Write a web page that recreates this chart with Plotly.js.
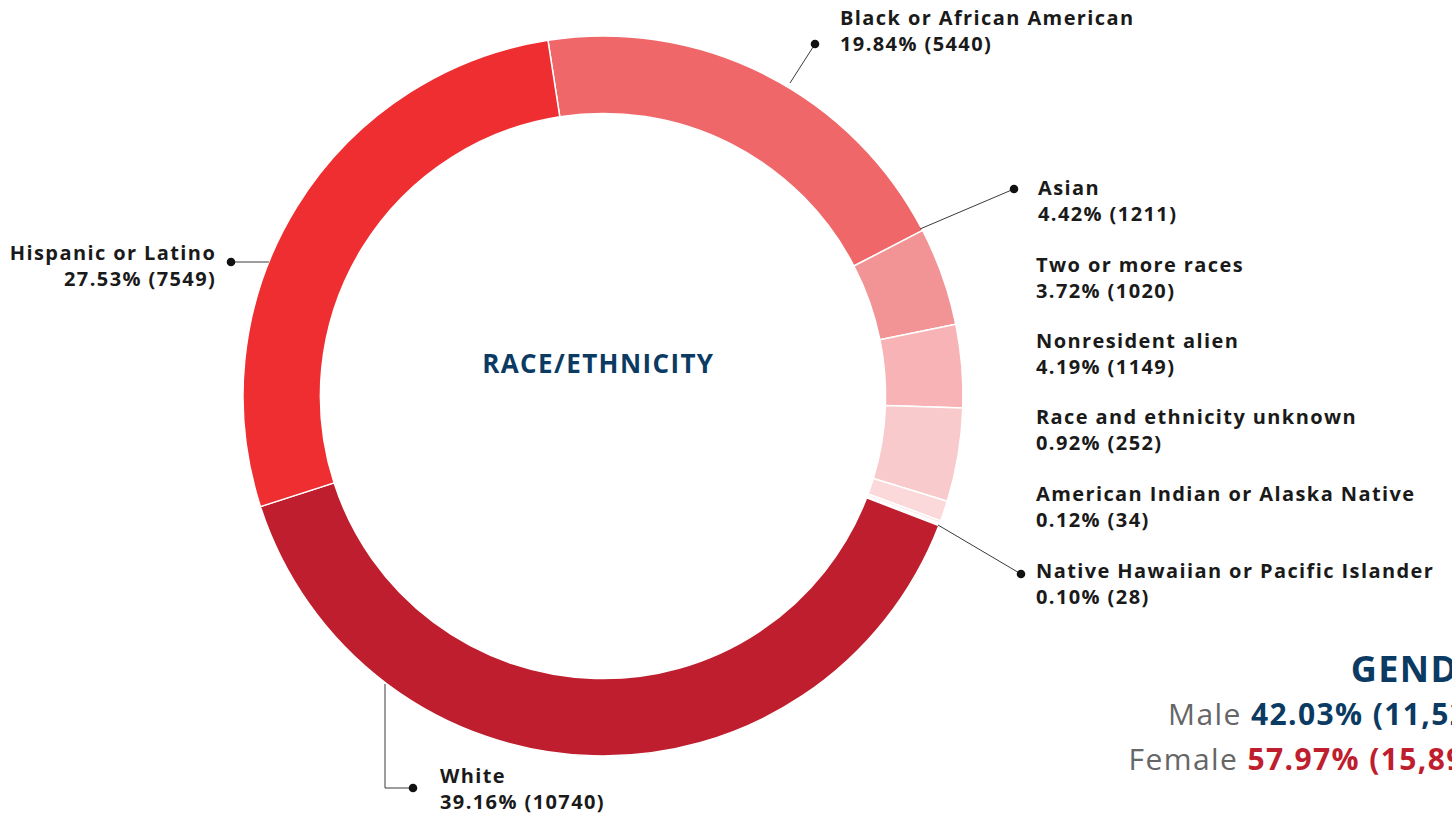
<!DOCTYPE html>
<html>
<head>
<meta charset="utf-8">
<script src="https://cdn.plot.ly/plotly-3.0.1.min.js"></script>
<style>
  html, body { margin: 0; padding: 0; background: #ffffff; }
  #chart { width: 1452px; height: 817px; }
  #chart .annotation-text { letter-spacing: 1.4px; }
</style>
</head>
<body>
<div id="chart"></div>
<script>
// ---- data ----
const categories = [
  "Black or African American",
  "Asian",
  "Two or more races",
  "Nonresident alien",
  "Race and ethnicity unknown",
  "American Indian or Alaska Native",
  "Native Hawaiian or Pacific Islander",
  "White",
  "Hispanic or Latino"
];
const percents = [19.84, 4.42, 3.72, 4.19, 0.92, 0.12, 0.10, 39.16, 27.53];
const counts   = [5440, 1211, 1020, 1149, 252, 34, 28, 10740, 7549];
const sliceColors = ["#EF6769", "#F29496", "#F7B3B5", "#F9CACC", "#FBD9DA", "#FCE7E7", "#FEF3F3", "#BE1E2D", "#EE2E31"];

const genderLabels = ["Male", "Female"];
const genderPercents = [42.03, 57.97];
const genderCounts = ["11,526", "15,897"];
const genderColors = ["#0B3A63", "#BE1E2D"];

// ---- helpers for layout positions (pixels -> paper) ----
const W = 1452, H = 817;
const px = x => x / W;
const py = y => 1 - y / H;

const FONT = "'Open Sans', 'DejaVu Sans', sans-serif";
const labelFont = { family: FONT, size: 20, color: "#1a1a1a" };

function labelText(i) {
  return "<b>" + categories[i] + "</b><br><b>" + percents[i].toFixed(2) + "% (" + counts[i] + ")</b>";
}

// label placement (layout only)
const labelPos = [
  { i: 0, x: 838, y: 31, xa: "left", al: "left" },
  { i: 1, x: 1036, y: 200, xa: "left", al: "left" },
  { i: 2, x: 1034, y: 277, xa: "left", al: "left" },
  { i: 3, x: 1034, y: 353, xa: "left", al: "left" },
  { i: 4, x: 1034, y: 429, xa: "left", al: "left" },
  { i: 5, x: 1034, y: 506, xa: "left", al: "left" },
  { i: 6, x: 1034, y: 583, xa: "left", al: "left" },
  { i: 7, x: 438, y: 788, xa: "left", al: "left" },
  { i: 8, x: 218, y: 265, xa: "right", al: "right" }
];

const annotations = labelPos.map(p => ({
  xref: "paper", yref: "paper",
  x: px(p.x), y: py(p.y),
  xanchor: p.xa, yanchor: "middle", align: p.al,
  showarrow: false,
  text: labelText(p.i),
  font: labelFont
}));

annotations.push({
  xref: "paper", yref: "paper", x: px(598), y: py(363),
  xanchor: "center", yanchor: "middle", showarrow: false,
  text: "<b>RACE/ETHNICITY</b>",
  font: { family: FONT, size: 26, color: "#0B3A63" }
});

annotations.push({
  xref: "paper", yref: "paper", x: px(1353), y: py(668),
  xanchor: "left", yanchor: "middle", showarrow: false,
  text: "<b>GENDER</b>",
  font: { family: FONT, size: 36, color: "#0B3A63" }
});
const genderX = [1180, 1142];
const genderY = [713, 758];
genderLabels.forEach((g, k) => {
  annotations.push({
    xref: "paper", yref: "paper", x: px(genderX[k]), y: py(genderY[k]),
    xanchor: "left", yanchor: "middle", showarrow: false,
    text: g + " <b><span style='color:" + genderColors[k] + "'>" + genderPercents[k].toFixed(2) + "% (" + genderCounts[k] + ")</span></b>",
    font: { family: FONT, size: 30, color: "#666666" }
  });
});

// leader lines + dots (layout decoration)
const leaders = [
  [[790, 83], [815, 44]],
  [[920, 229], [1014, 189]],
  [[938, 525], [1021, 574]],
  [[269, 262], [231, 262]],
  [[385, 684], [385, 788], [413, 788]]
];
const shapes = [];
leaders.forEach(pts => {
  let path = "M " + pts.map(p => px(p[0]) + " " + py(p[1])).join(" L ");
  shapes.push({ type: "path", xref: "paper", yref: "paper", path: path,
    line: { color: "#3a3a3a", width: 1 } });
  const end = pts[pts.length - 1];
  const r = 4.3;
  shapes.push({ type: "circle", xref: "paper", yref: "paper",
    x0: px(end[0] - r), x1: px(end[0] + r), y0: py(end[1] + r), y1: py(end[1] - r),
    fillcolor: "#111111", line: { width: 0 } });
});

const trace = {
  type: "pie",
  labels: categories,
  values: counts,
  sort: false,
  direction: "clockwise",
  rotation: -8.8,
  hole: 0.785,
  textinfo: "none",
  hoverinfo: "label+percent",
  showlegend: false,
  marker: { colors: sliceColors, line: { color: "#ffffff", width: 1.5 } },
  domain: { x: [px(243), px(963)], y: [py(756), py(36)] }
};

const layout = {
  width: W, height: H,
  margin: { l: 0, r: 0, t: 0, b: 0 },
  paper_bgcolor: "#ffffff",
  plot_bgcolor: "#ffffff",
  showlegend: false,
  annotations: annotations,
  shapes: shapes
};

Plotly.newPlot("chart", [trace], layout, { displayModeBar: false, staticPlot: true });
</script>
</body>
</html>
